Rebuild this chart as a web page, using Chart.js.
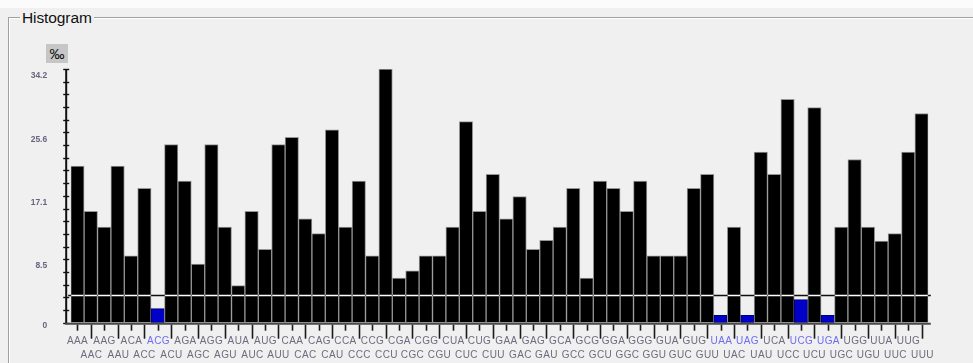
<!DOCTYPE html>
<html>
<head>
<meta charset="utf-8">
<script src="https://cdn.jsdelivr.net/npm/chart.js@4/dist/chart.umd.min.js"></script>
<style>
  html, body { margin: 0; padding: 0; }
  body { width: 973px; height: 363px; overflow: hidden; background: #f0f0f0; position: relative; font-family: "Liberation Sans", Arial, sans-serif; }
  #strip { position: absolute; left: 0; top: 0; width: 973px; height: 8px; background: #fbfbfb; }
  #group { position: absolute; left: 8px; top: 17px; width: 1000px; height: 400px;
           border-top: 1px solid #a0a0a0; border-left: 1px solid #a0a0a0;
           box-shadow: inset 1px 1px 0 #ffffff; }
  #title { position: absolute; left: 20px; top: 9px; padding: 0 2px; background: #f0f0f0;
           font-size: 15.5px; line-height: 18px; color: #111; letter-spacing: -0.1px; }
  #unit { position: absolute; left: 46px; top: 44px; width: 22px; height: 19px; background: #c6c6c6;
          font-size: 15px; line-height: 19px; text-align: center; color: #111; }
  #chart { position: absolute; left: 0; top: 0; }
</style>
</head>
<body>
<div id="strip"></div>
<div id="group"></div>
<div id="title">Histogram</div>
<div id="unit">‰</div>
<canvas id="chart" width="973" height="363"></canvas>
<script>
// Codon usage, per mille, in U-C-A-G table order
const codons = [
  'AAA','AAC','AAG','AAU','ACA','ACC','ACG','ACU','AGA','AGC','AGG','AGU','AUA','AUC','AUG','AUU',
  'CAA','CAC','CAG','CAU','CCA','CCC','CCG','CCU','CGA','CGC','CGG','CGU','CUA','CUC','CUG','CUU',
  'GAA','GAC','GAG','GAU','GCA','GCC','GCG','GCU','GGA','GGC','GGG','GGU','GUA','GUC','GUG','GUU',
  'UAA','UAC','UAG','UAU','UCA','UCC','UCG','UCU','UGA','UGC','UGG','UGU','UUA','UUC','UUG','UUU'
];
const usage = [
  21.1, 15.0, 12.9, 21.1,  9.0, 18.1,  1.9, 24.0, 19.1,  7.9, 24.0, 12.9,  5.0, 15.0,  9.9, 24.0,
  25.0, 14.0, 12.0, 26.0, 12.9, 19.1,  9.0, 34.2,  6.0,  7.0,  9.0,  9.0, 12.9, 27.1, 15.0, 20.0,
  14.0, 17.0,  9.9, 11.1, 12.9, 18.1,  6.0, 19.1, 18.1, 15.0, 19.1,  9.0,  9.0,  9.0, 18.1, 20.0,
   1.0, 12.9,  1.0, 23.0, 20.0, 30.1,  3.1, 29.0,  1.0, 12.9, 22.0, 12.9, 11.0, 12.0, 23.0, 28.2
];
// Codons shown in blue
const marked = ['ACG', 'UAA', 'UAG', 'UCG', 'UGA'];
// Value-axis labels and range
const yLabels = ['0', '8.5', '17.1', '25.6', '34.2'];
const yMax = 34.2;
const yMinorSteps = 20;
// Cut-off level drawn across the bars
const cutoff = 3.8;

const isMarked = c => marked.includes(c);

const axesPlugin = {
  id: 'histAxes',
  beforeDatasetsDraw(chart) {
    // opaque plot background so the inverted cut-off line shows dark over it
    const ctx = chart.ctx, area = chart.chartArea;
    ctx.save();
    ctx.fillStyle = '#f0f0f0';
    ctx.fillRect(area.left - 3, area.top - 2, area.right - area.left + 8, area.bottom - area.top + 2);
    ctx.restore();
  },
  afterDatasetsDraw(chart) {
    const ctx = chart.ctx;
    const xs = chart.scales.x, ys = chart.scales.y;
    const area = chart.chartArea;
    const axisX = area.left - 4.5;
    const axisRight = area.right + 2.5;
    const y0 = ys.getPixelForValue(0);
    const yTop = ys.getPixelForValue(yMax);

    ctx.save();
    // cut-off line, inverted against what lies beneath it
    const yc = Math.round(ys.getPixelForValue(cutoff)) + 0.5;
    ctx.globalCompositeOperation = 'difference';
    ctx.strokeStyle = '#ffffff';
    ctx.lineWidth = 1.6;
    ctx.beginPath();
    ctx.moveTo(axisX + 2, yc);
    ctx.lineTo(axisRight, yc);
    ctx.stroke();
    ctx.globalCompositeOperation = 'source-over';

    // value axis
    ctx.strokeStyle = '#101010';
    ctx.lineWidth = 2;
    ctx.beginPath();
    ctx.moveTo(axisX, yTop);
    ctx.lineTo(axisX, y0 + 1);
    ctx.stroke();
    ctx.lineWidth = 1.4;
    for (let k = 0; k <= yMinorSteps; k++) {
      const y = Math.round(ys.getPixelForValue(yMax * k / yMinorSteps)) + 0.5;
      ctx.beginPath();
      ctx.moveTo(axisX - 3, y);
      ctx.lineTo(axisX + 3, y);
      ctx.stroke();
    }
    ctx.fillStyle = '#66667e';
    ctx.font = 'bold 8.5px "Liberation Sans", Arial, sans-serif';
    ctx.textAlign = 'right';
    ctx.textBaseline = 'middle';
    yLabels.forEach(t => {
      const y = ys.getPixelForValue(parseFloat(t));
      ctx.fillText(t, axisX - 19, Math.min(y + 6.5, y0 + 2.5));
    });

    // category axis
    ctx.strokeStyle = '#4a4a4a';
    ctx.lineWidth = 2;
    ctx.beginPath();
    ctx.moveTo(axisX - 1, y0 + 1);
    ctx.lineTo(axisRight, y0 + 1);
    ctx.stroke();
    ctx.strokeStyle = '#1a1a1a';
    ctx.lineWidth = 1.6;
    ctx.font = '10px "Liberation Sans", Arial, sans-serif';
    ctx.letterSpacing = '0.4px';
    ctx.textAlign = 'center';
    codons.forEach((c, i) => {
      const x = Math.round(xs.getPixelForValue(i)) + 0.5;
      const low = i % 2 === 1;
      ctx.beginPath();
      ctx.moveTo(x, y0 + 2);
      ctx.lineTo(x, y0 + (low ? 16 : 8));
      ctx.stroke();
      ctx.fillStyle = isMarked(c) ? '#6e6cf2' : '#6c6c7e';
      ctx.fillText(c, x, y0 + (low ? 32.5 : 19));
    });
    ctx.restore();
  }
};

new Chart(document.getElementById('chart'), {
  type: 'bar',
  data: {
    labels: codons,
    datasets: [{
      data: usage,
      backgroundColor: codons.map(c => isMarked(c) ? '#0000c8' : '#000000'),
      borderColor: codons.map(c => isMarked(c) ? '#00006e' : '#959595'),
      borderWidth: 1,
      borderSkipped: false,
      barPercentage: 1,
      categoryPercentage: 1
    }]
  },
  options: {
    responsive: false,
    animation: false,
    devicePixelRatio: 1,
    layout: { padding: { left: 70.7, right: 44.7, top: 69, bottom: 40.3 } },
    scales: {
      x: { display: false },
      y: { display: false, min: 0, max: yMax }
    },
    plugins: { legend: { display: false }, tooltip: { enabled: false } }
  },
  plugins: [axesPlugin]
});
</script>
</body>
</html>
